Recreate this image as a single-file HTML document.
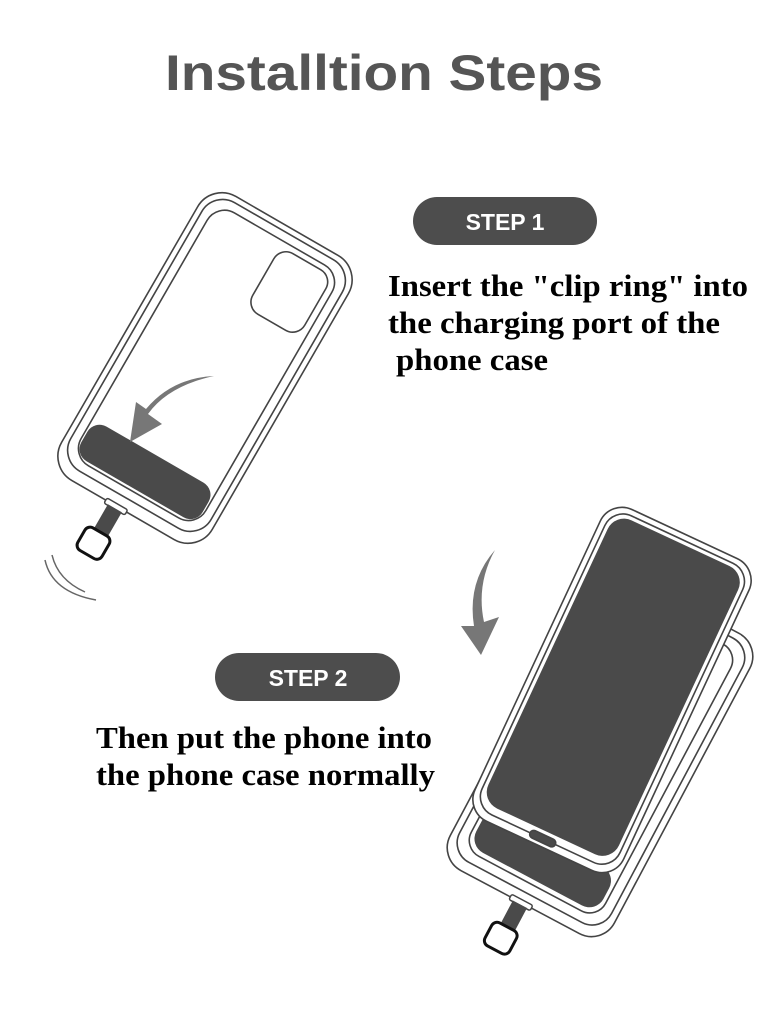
<!DOCTYPE html>
<html><head><meta charset="utf-8"><style>
html,body{margin:0;padding:0;background:#fff;}
svg{display:block;}
</style></head><body>
<svg width="768" height="1024" viewBox="0 0 768 1024" xmlns="http://www.w3.org/2000/svg">
<rect width="768" height="1024" fill="#fff"/>
<text x="165" y="90" font-family="Liberation Sans, sans-serif" font-weight="bold" font-size="50" fill="#555" textLength="438" lengthAdjust="spacingAndGlyphs">Installtion Steps</text>

<rect x="413" y="197" width="184" height="48" rx="24" fill="#4d4d4d"/>
<text x="505" y="230" text-anchor="middle" font-family="Liberation Sans, sans-serif" font-weight="bold" font-size="23" fill="#fff">STEP 1</text>
<rect x="215" y="653" width="185" height="48" rx="24" fill="#4d4d4d"/>
<text x="308" y="686" text-anchor="middle" font-family="Liberation Sans, sans-serif" font-weight="bold" font-size="23" fill="#fff">STEP 2</text>

<g font-family="Liberation Serif, serif" font-weight="bold" font-size="31" fill="#000">
<text x="388" y="296" textLength="360" lengthAdjust="spacingAndGlyphs">Insert the "clip ring" into</text>
<text x="388" y="333" textLength="332" lengthAdjust="spacingAndGlyphs">the charging port of the</text>
<text x="396" y="370" textLength="152" lengthAdjust="spacingAndGlyphs">phone case</text>
<text x="96" y="748" textLength="336" lengthAdjust="spacingAndGlyphs">Then put the phone into</text>
<text x="96" y="785" textLength="339" lengthAdjust="spacingAndGlyphs">the phone case normally</text>
</g>

<!-- Phone case 1 -->
<g transform="translate(205,368) rotate(30)" fill="none" stroke="#444" stroke-width="1.6">
  <rect x="-87" y="-164" width="174" height="328" rx="28"/>
  <rect x="-81" y="-158" width="162" height="310" rx="24"/>
  <rect x="-72" y="-149" width="144" height="292" rx="20"/>
  <rect x="5" y="-143" width="60" height="70" rx="14"/>
  <rect x="-70" y="100" width="140" height="40" rx="14" fill="#4a4a4a" stroke="none"/>
</g>
<g transform="translate(115,506) rotate(30)">
  <rect x="-11" y="-3" width="24" height="6" rx="2" fill="#fff" stroke="#444" stroke-width="1.5"/>
  <rect x="-7" y="2" width="16" height="30" fill="#4a4a4a"/>
  <rect x="-14" y="30" width="28" height="26" rx="6" fill="#fff" stroke="#111" stroke-width="3"/>
</g>
<path d="M52,555 Q58,580 85,592" fill="none" stroke="#666" stroke-width="1.5"/>
<path d="M45,560 Q52,592 96,600" fill="none" stroke="#666" stroke-width="1.5"/>
<path d="M214,376 Q168,386 148,414 L162,424 L130,442 L136,402 L146,409 Q172,378 214,376 Z" fill="#777"/>

<path d="M495,550 Q476,584 484,622 L499,617 L481,655 L461,626 L474,626 Q467,582 495,550 Z" fill="#777"/>

<!-- back case -->
<g transform="translate(600,752) rotate(28)" fill="#fff" stroke="#444" stroke-width="1.6">
  <rect x="-93" y="-170" width="186" height="340" rx="26"/>
  <rect x="-86" y="-163" width="172" height="322" rx="22"/>
  <rect x="-76" y="-153" width="152" height="302" rx="18" fill="none"/>
  <rect x="-72" y="100" width="144" height="44" rx="16" fill="#4a4a4a" stroke="none"/>
</g>
<!-- front phone -->
<g transform="translate(612,690) rotate(25)" stroke="#444" stroke-width="1.6">
  <rect x="-82" y="-172" width="164" height="344" rx="24" fill="#fff"/>
  <rect x="-76" y="-166" width="152" height="330" rx="20" fill="#fff"/>
  <rect x="-72" y="-162" width="144" height="318" rx="18" fill="#4a4a4a" stroke="none"/>
  <rect x="-14" y="160" width="28" height="8" rx="4" fill="#4a4a4a"/>
</g>
<g transform="translate(520,902) rotate(28)">
  <rect x="-11" y="-3" width="24" height="6" rx="2" fill="#fff" stroke="#444" stroke-width="1.5"/>
  <rect x="-7" y="2" width="16" height="28" fill="#4a4a4a"/>
  <rect x="-14" y="28" width="28" height="26" rx="6" fill="#fff" stroke="#111" stroke-width="3"/>
</g>
</svg>
</body></html>
